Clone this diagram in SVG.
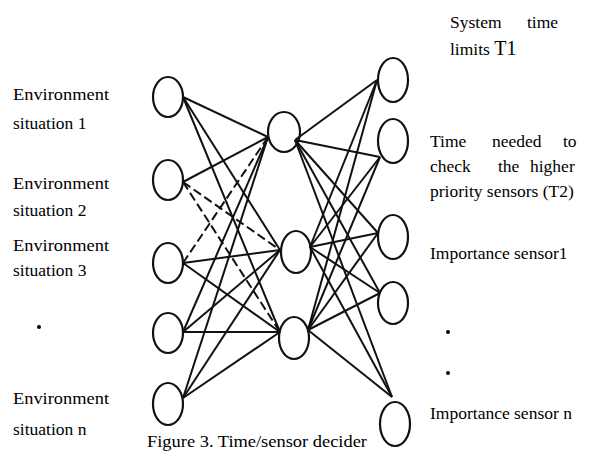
<svg xmlns="http://www.w3.org/2000/svg" width="592" height="454" viewBox="0 0 592 454">
<style>
.n{fill:none;stroke:#111;stroke-width:2.2}
.e{stroke:#111;stroke-width:2;fill:none}
.d{stroke-dasharray:9 4}
.t{font-family:"Liberation Serif","Times New Roman",serif;font-size:17.5px;fill:#000}
.c{font-family:"Liberation Serif","Times New Roman",serif;font-size:17.5px;fill:#000}
</style>
<rect width="592" height="454" fill="#fff"/>
<g id="connectors">
<line class="e" x1="183" y1="97" x2="268" y2="137"/>
<line class="e" x1="183" y1="97" x2="280" y2="250"/>
<line class="e" x1="183" y1="97" x2="280" y2="332"/>
<line class="e" x1="183" y1="182" x2="268" y2="137"/>
<line class="e d" x1="183" y1="182" x2="280" y2="250"/>
<line class="e d" x1="183" y1="182" x2="280" y2="332"/>
<line class="e d" x1="183" y1="263" x2="268" y2="137"/>
<line class="e" x1="183" y1="263" x2="280" y2="250"/>
<line class="e" x1="183" y1="263" x2="280" y2="332"/>
<line class="e" x1="183" y1="332" x2="268" y2="137"/>
<line class="e" x1="183" y1="332" x2="280" y2="250"/>
<line class="e" x1="183" y1="332" x2="280" y2="332" stroke-width="3"/>
<line class="e" x1="183" y1="398" x2="268" y2="137"/>
<line class="e" x1="183" y1="398" x2="280" y2="250"/>
<line class="e" x1="183" y1="398" x2="280" y2="332"/>
<line class="e" x1="295" y1="140" x2="377" y2="80"/>
<line class="e" x1="295" y1="140" x2="380" y2="157"/>
<line class="e" x1="295" y1="140" x2="378" y2="233"/>
<line class="e" x1="295" y1="140" x2="380" y2="293"/>
<line class="e" x1="295" y1="140" x2="392" y2="397"/>
<line class="e" x1="310" y1="247" x2="377" y2="80"/>
<line class="e" x1="310" y1="247" x2="380" y2="157"/>
<line class="e" x1="310" y1="247" x2="378" y2="233"/>
<line class="e" x1="310" y1="247" x2="380" y2="293"/>
<line class="e" x1="310" y1="247" x2="392" y2="397"/>
<line class="e" x1="308" y1="330" x2="377" y2="80"/>
<line class="e" x1="308" y1="330" x2="380" y2="157"/>
<line class="e" x1="308" y1="330" x2="378" y2="233"/>
<line class="e" x1="308" y1="330" x2="380" y2="293"/>
<line class="e" x1="308" y1="330" x2="392" y2="397"/>
</g>
<g id="L1"><ellipse class="n" cx="168" cy="97" rx="15" ry="20"/></g>
<g id="L2"><ellipse class="n" cx="168" cy="180" rx="15" ry="20"/></g>
<g id="L3"><ellipse class="n" cx="168" cy="263" rx="15" ry="20"/></g>
<g id="L4"><ellipse class="n" cx="168" cy="333" rx="15" ry="20"/></g>
<g id="L5"><ellipse class="n" cx="168" cy="404" rx="15" ry="21"/></g>
<g id="M1"><ellipse class="n" cx="284" cy="132" rx="16" ry="20"/></g>
<g id="M2"><ellipse class="n" cx="296" cy="252" rx="15" ry="21"/></g>
<g id="M3"><ellipse class="n" cx="294" cy="338" rx="15" ry="21"/></g>
<g id="R1"><ellipse class="n" cx="393" cy="80" rx="15" ry="22"/></g>
<g id="R2"><ellipse class="n" cx="393" cy="141" rx="15" ry="22"/></g>
<g id="R3"><ellipse class="n" cx="393" cy="237" rx="15" ry="22"/></g>
<g id="R4"><ellipse class="n" cx="393" cy="303" rx="15" ry="21"/></g>
<g id="R5"><ellipse class="n" cx="395" cy="424" rx="15" ry="22"/></g>
<g id="labels-left">
<text class="t" x="13" y="100" textLength="96" lengthAdjust="spacingAndGlyphs">Environment</text>
<text class="t" x="13" y="129">situation 1</text>
<text class="t" x="13" y="189" textLength="96" lengthAdjust="spacingAndGlyphs">Environment</text>
<text class="t" x="13" y="216">situation 2</text>
<text class="t" x="13" y="251" textLength="96" lengthAdjust="spacingAndGlyphs">Environment</text>
<text class="t" x="13" y="276">situation 3</text>
<circle cx="39" cy="327" r="2" fill="#000"/>
<text class="t" x="13" y="404" textLength="96" lengthAdjust="spacingAndGlyphs">Environment</text>
<text class="t" x="13" y="435">situation n</text>
</g>
<g id="labels-right">
<text class="t" x="450" y="28">System</text>
<text class="t" x="527" y="28">time</text>
<text class="t" x="450" y="55">limits <tspan font-size="20">T1</tspan></text>
<text class="t" x="430" y="147">Time</text>
<text class="t" x="492" y="147">needed</text>
<text class="t" x="563" y="147">to</text>
<text class="t" x="430" y="172">check</text>
<text class="t" x="498" y="172">the</text>
<text class="t" x="530" y="172">higher</text>
<text class="t" x="430" y="197">priority sensors (T2)</text>
<text class="t" x="430" y="259">Importance sensor1</text>
<circle cx="448" cy="332" r="2" fill="#000"/>
<circle cx="448" cy="373" r="2" fill="#000"/>
<text class="t" x="430" y="419">Importance sensor n</text>
</g>
<text class="c" x="147" y="447" textLength="220" lengthAdjust="spacingAndGlyphs">Figure 3. Time/sensor decider</text>
</svg>
